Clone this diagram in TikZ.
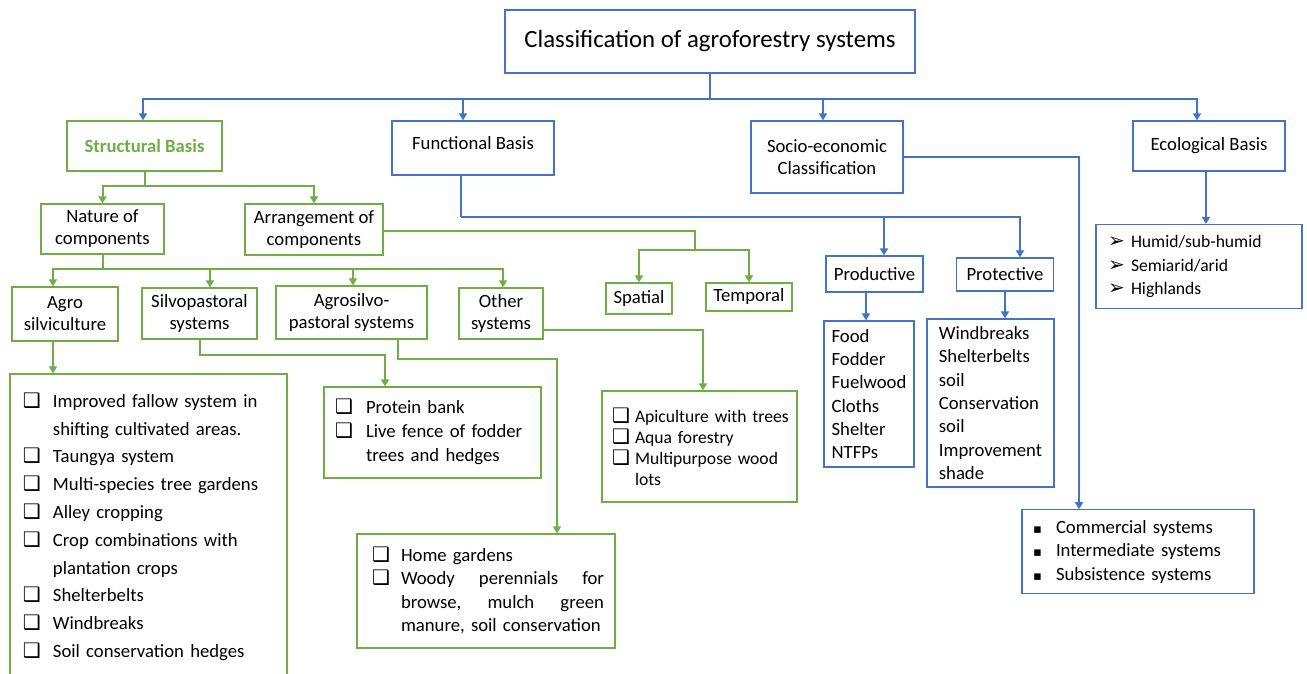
\documentclass[tikz,border=0pt]{standalone}
\usepackage{fontspec}
\setmainfont{Carlito}
\newfontfamily\dejavu{DejaVu Sans}
\usetikzlibrary{arrows.meta}
\definecolor{cblue}{HTML}{4472C4}
\definecolor{cgreen}{HTML}{70AD47}
% list marks and items
\newcommand{\sqmark}{{\dejavu\fontsize{20}{20}\selectfont ❑}}
\newcommand{\arrmark}{{\dejavu\fontsize{20}{20}\selectfont ➢}}
\newcommand{\dotmark}{{\dejavu\fontsize{13}{13}\selectfont ▪}}
\newcommand{\litem}[3]{\par\noindent\makebox[#2pt][l]{#1}\mbox{#3}}
\newcommand{\lmore}[2]{\par\noindent\hspace*{#1pt}\mbox{#2}}
\newcommand{\lend}[1]{\par\kern#1pt}

\begin{document}
\begin{tikzpicture}[x=1pt, y=-1pt,
    lbox/.style={draw, line width=1.3pt, inner sep=0pt, align=center, font=\fontsize{18.7}{22}\selectfont},
    greenbox/.style={lbox, draw=cgreen},
    bluebox/.style={lbox, draw=cblue},
    gline/.style={cgreen, line width=2pt},
    bline/.style={cblue, line width=2pt},
    garrow/.style={gline, -{Triangle[width=8pt,length=7pt]}},
    barrow/.style={bline, -{Triangle[width=8pt,length=7pt]}}]
  \path[use as bounding box, fill=white] (0,0) rectangle (1307,673);
  \clip (0,0) rectangle (1307,673);

  % Title
  \node[bluebox, minimum width=410, minimum height=63, font=\fontsize{24.8}{28}\selectfont] (top) at (710,41.5) {Classification of agroforestry systems};

  % Bases
  \node[greenbox, minimum width=155, minimum height=50, text=cgreen, font=\fontsize{18.7}{22}\selectfont\bfseries] (sb) at (144.5,146) {Structural Basis};
  \node[bluebox, minimum width=162, minimum height=54, text depth=9pt] (fb) at (473,148) {Functional Basis};
  \node[bluebox, minimum width=152, minimum height=72] (se) at (827,157) {Socio-economic\\Classification};
  \node[bluebox, minimum width=152, minimum height=50] (eb) at (1209,146) {Ecological Basis};

  % Structural branch
  \node[greenbox, minimum width=123, minimum height=50] (nat) at (102.5,229) {Nature of\\components};
  \node[greenbox, minimum width=138, minimum height=51] (arr) at (314,229.5) {Arrangement of\\components};
  \node[greenbox, minimum width=106, minimum height=54] (agro) at (65,314) {Agro\\silviculture};
  \node[greenbox, minimum width=115, minimum height=51] (silvo) at (199.5,313.5) {Silvopastoral\\systems};
  \node[greenbox, minimum width=151, minimum height=53] (agsp) at (351.5,312.5) {Agrosilvo-\\pastoral systems};
  \node[greenbox, minimum width=84, minimum height=51] (oth) at (501,313.5) {Other\\systems};
  \node[greenbox, minimum width=66, minimum height=31] (spa) at (639,298.5) {Spatial};
  \node[greenbox, minimum width=86, minimum height=28] (tmp) at (749,297) {Temporal};

  % Structural lists
  \node[greenbox, minimum width=277, minimum height=304, text width=251, align=left, font=\fontsize{18.7}{27.8}\selectfont] (agl) at (148.5,526) {%
    \litem{\sqmark}{30}{Improved fallow system in}
    \lmore{30}{shifting cultivated areas.}
    \litem{\sqmark}{30}{Taungya system}
    \litem{\sqmark}{30}{Multi-species tree gardens}
    \litem{\sqmark}{30}{Alley cropping}
    \litem{\sqmark}{30}{Crop combinations with}
    \lmore{30}{plantation crops}
    \litem{\sqmark}{30}{Shelterbelts}
    \litem{\sqmark}{30}{Windbreaks}
    \litem{\sqmark}{30}{Soil conservation hedges}
    \lend{12}};
  \node[greenbox, minimum width=217, minimum height=91, text width=195, align=left, font=\fontsize{18.7}{24}\selectfont] (pb) at (432.5,432.5) {%
    \litem{\sqmark}{31}{Protein bank}
    \litem{\sqmark}{31}{Live fence of fodder}
    \lmore{31}{trees and hedges}
    \lend{10}};
  \node[greenbox, minimum width=258, minimum height=114, text width=228, align=left, font=\fontsize{18.7}{23.3}\selectfont] (hg) at (486,591) {%
    \litem{\sqmark}{29}{Home gardens}
    \litem{\sqmark}{29}{\makebox[203pt][l]{Woody\hfill perennials\hfill for}}
    \lmore{29}{\makebox[203pt][l]{browse,\hfill mulch\hfill green}}
    \lmore{29}{manure, soil conservation}
    \lend{10}};
  \node[greenbox, minimum width=195, minimum height=111, text width=175, align=left, font=\fontsize{17.6}{21}\selectfont] (api) at (699.5,446.5) {%
    \litem{\sqmark}{23}{Apiculture with trees}
    \litem{\sqmark}{23}{Aqua forestry}
    \litem{\sqmark}{23}{Multipurpose wood}
    \lmore{23}{lots}
    \lend{6}};

  % Functional branch
  \node[bluebox, minimum width=97, minimum height=36] (prd) at (874.5,274) {Productive};
  \node[bluebox, minimum width=97, minimum height=33] (prt) at (1005,274.5) {Protective};
  \node[bluebox, minimum width=90, minimum height=146, align=left, font=\fontsize{18.7}{23.2}\selectfont] (fd) at (869,394) {Food\\Fodder\\Fuelwood\\Cloths\\Shelter\\NTFPs};
  \node[bluebox, minimum width=127, minimum height=168, align=left, font=\fontsize{18.7}{23.3}\selectfont] (wb) at (990.5,403) {Windbreaks\\Shelterbelts\\soil\\Conservation\\soil\\Improvement\\shade};

  % Socio-economic and ecological lists
  \node[bluebox, minimum width=232, minimum height=81, text width=210, align=left, font=\fontsize{18.7}{23.5}\selectfont] (cm) at (1138,551.5) {%
    \litem{\dotmark}{23}{Commercial systems}
    \litem{\dotmark}{23}{Intermediate systems}
    \litem{\dotmark}{23}{Subsistence systems}
    \lend{10}};
  \node[bluebox, minimum width=206, minimum height=81, text width=182, align=left, font=\fontsize{17.6}{23.3}\selectfont] (hm) at (1199,266.5) {%
    \litem{\arrmark}{23}{Humid/sub-humid}
    \litem{\arrmark}{23}{Semiarid/arid}
    \litem{\arrmark}{23}{Highlands}
    \lend{11}};

  % Top connectors
  \draw[bline] (top.south) -- ++(0,25) coordinate (tbus);
  \draw[barrow] (tbus) -| ([xshift=-1.5pt]sb.north);
  \draw[barrow] (tbus) -| ([xshift=-10pt]fb.north);
  \draw[barrow] (tbus) -| ([xshift=-4pt]se.north);
  \draw[barrow] (tbus) -| ([xshift=-12pt]eb.north);

  % Structural connectors
  \draw[gline] (sb.south) -- ++(0,14) coordinate (sbus);
  \draw[garrow] (sbus) -| (nat.north);
  \draw[garrow] (sbus) -| (arr.north);
  \draw[gline] (nat.south) -- ++(0,14) coordinate (nbus);
  \draw[garrow] (nbus) -| ([xshift=-12pt]agro.north);
  \draw[garrow] (nbus) -| ([xshift=10.5pt]silvo.north);
  \draw[garrow] (nbus) -| ([xshift=1.5pt]agsp.north);
  \draw[garrow] (nbus) -| ([xshift=2pt]oth.north);
  \coordinate (ajn) at (695,250);
  \draw[gline] ([yshift=-1.5pt]arr.east) -| (ajn);
  \draw[garrow] (ajn) -| (spa.north);
  \draw[garrow] (ajn) -| (tmp.north);
  \draw[garrow] ([xshift=-12pt]agro.south) -- ([xshift=-12pt]agro.south |- agl.north);
  \draw[garrow] (silvo.south) -- ++(0,15) -| ([xshift=-47.5pt]pb.north);
  \draw[garrow] ([xshift=46.5pt]agsp.south) -- ++(0,19) -| ([xshift=71pt]hg.north);
  \draw[garrow] ([yshift=-16.5pt]oth.east) -| ([xshift=3.5pt]api.north);

  % Functional, socio-economic and ecological connectors
  \draw[bline] ([xshift=-12pt]fb.south) -- ++(0,41) coordinate (fbus);
  \draw[barrow] (fbus) -| ([xshift=9.5pt]prd.north);
  \draw[barrow] (fbus) -| ([xshift=15pt]prt.north);
  \draw[barrow] ([xshift=-8.5pt]prd.south) -- ([xshift=-8.5pt]prd.south |- fd.north);
  \draw[barrow] (prt.south) -- (prt.south |- wb.north);
  \draw[barrow] (se.east) -| ([xshift=-59pt]cm.north);
  \draw[barrow] ([xshift=-3pt]eb.south) -- ([xshift=-3pt]eb.south |- hm.north);
\end{tikzpicture}
\end{document}
